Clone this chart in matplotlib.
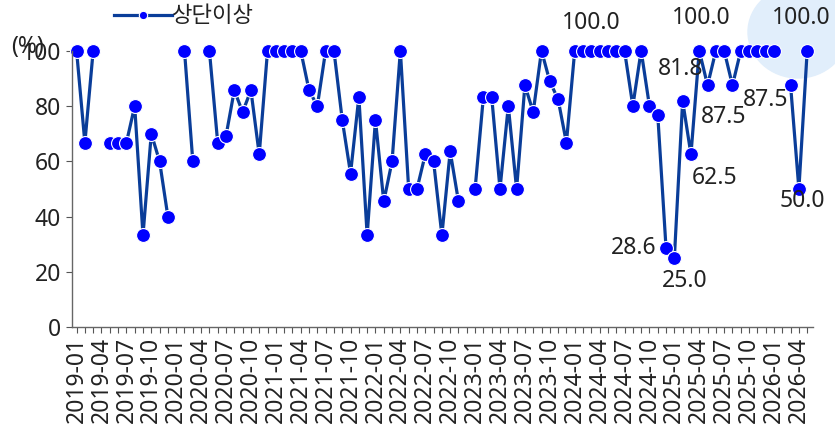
import numpy as np
import matplotlib
matplotlib.use("Agg")
from matplotlib import pyplot as plt
from matplotlib.patches import Ellipse

plt.rcParams['font.family'] = ['Noto Sans', 'Noto Sans CJK KR', 'DejaVu Sans']

# 2019-01 ~ 2026-05, monthly (None = no data)
months = [f"{y}-{m:02d}" for y in range(2019, 2027) for m in range(1, 13)][:89]
values = [
    100, 66.7, 100, None, 66.7, 66.7, 66.7, 80, 33.3, 70, 60, 40,
    None, 100, 60, None, 100, 66.7, 69.2, 85.7, 77.8, 85.7, 62.5, 100,
    100, 100, 100, 100, 85.7, 80, 100, 100, 75, 55.6, 83.3, 33.3,
    75, 45.5, 60, 100, 50, 50, 62.5, 60, 33.3, 63.6, 45.5, None,
    50, 83.3, 83.3, 50, 80, 50, 87.5, 77.8, 100, 88.9, 82.4, 66.7,
    100, 100, 100, 100, 100, 100, 100, 80, 100, 80, 76.9, 28.6,
    25.0, 81.8, 62.5, 100, 87.5, 100, 100, 87.5, 100, 100, 100, 100,
    100, None, 87.5, 50, 100,
]
series_name = "상단이상"

# labelled points: (month, dx px, dy px, ha)
labels = [
    ("2024-03", 0, 28, "center"),
    ("2024-12", -10, 0, "right"),
    ("2025-01", 10, -23, "center"),
    ("2025-02", -2, 32, "center"),
    ("2025-03", 24, -24, "center"),
    ("2025-04", 2, 33, "center"),
    ("2025-05", 16, -32, "center"),
    ("2026-03", -25, -15, "center"),
    ("2026-04", 3, -12, "center"),
    ("2026-05", -6, 33, "center"),
]

fs = 16.5
y = np.array([np.nan if v is None else v for v in values], dtype=float)
x = np.arange(len(months))

fig = plt.figure(figsize=(8.35, 4.32), dpi=100)
ax = fig.add_axes([72 / 835, 1 - 327.3 / 432, (813 - 72) / 835, (327.3 - 50.7) / 432])
ax.set_facecolor('none')

# highlight circle behind the last label
fig.add_artist(Ellipse((798 / 835, 1 - 32 / 432), 2 * 50 / 835, 2 * 46 / 432,
                       transform=fig.transFigure, color='#e1eefb', zorder=-1))

line, = ax.plot(x, y, color='#0a3d99', lw=2.3, marker='o', markersize=10,
                markerfacecolor='#0000ff', markeredgecolor='white', markeredgewidth=0.8,
                label=series_name, clip_on=False)

for m, dx, dy, ha in labels:
    i = months.index(m)
    ax.annotate(f"{y[i]:.1f}", (i, y[i]), xytext=(dx * 0.72, dy * 0.72),
                textcoords='offset points', ha=ha, va='center',
                fontsize=fs, color='#222222', annotation_clip=False)

ax.set_xlim(-0.55, 88.7)
ax.set_ylim(0, 100)
ax.set_yticks([0, 20, 40, 60, 80, 100])
ax.set_xticks(x)
ax.set_xticklabels([m if i % 3 == 0 else "" for i, m in enumerate(months)], rotation=90)
ax.tick_params(axis='x', length=4, width=0.8, color='#555555', labelsize=fs, labelcolor='#222222', pad=3)
ax.tick_params(axis='y', length=4, width=0.8, color='#555555', labelsize=fs, labelcolor='#222222', pad=4)
for s in ['top', 'right']:
    ax.spines[s].set_visible(False)
for s in ['left', 'bottom']:
    ax.spines[s].set_color('#666666')
    ax.spines[s].set_linewidth(1)

fig.text(11 / 835, 1 - 47 / 432, "(%)", fontsize=fs, color='#222222', va='center', ha='left')
fig.legend(handles=[line], loc='center left', bbox_to_anchor=(103 / 835, 1 - 17 / 432),
           frameon=False, fontsize=16, handlelength=2.6, handletextpad=0.0, borderpad=0,
           markerscale=0.6, labelcolor='#222222')

fig.savefig("out.png", dpi=100)
